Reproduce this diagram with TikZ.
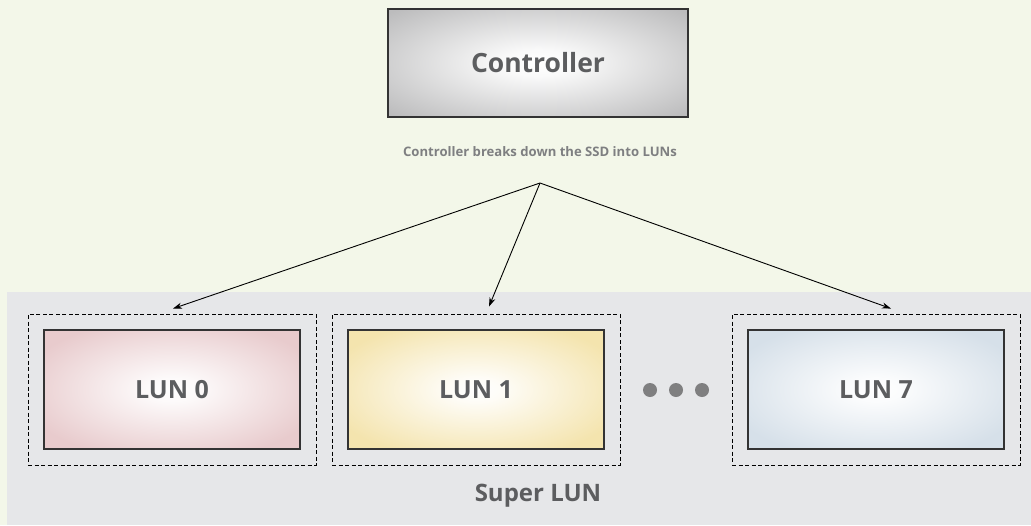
\documentclass[tikz,border=0pt]{standalone}
\usepackage{fontspec}
\setmainfont{Open Sans}
\usetikzlibrary{arrows.meta,calc}
\definecolor{bgc}{HTML}{F3F7E9}
\definecolor{superc}{HTML}{E6E7E9}
\definecolor{txt}{HTML}{5C5D5F}
\definecolor{captxt}{HTML}{7E7F81}
\definecolor{ctrlout}{HTML}{BCBCBD}
\definecolor{lunA}{HTML}{E8CBCD}
\definecolor{lunB}{HTML}{F4E4AE}
\definecolor{lunC}{HTML}{D6E0E9}
\pgfdeclareradialshading{ctrlshade}{\pgfpoint{0bp}{0bp}}{color(0bp)=(white); color(6bp)=(white!92!ctrlout); color(34bp)=(ctrlout); color(50bp)=(ctrlout)}
\pgfdeclareradialshading{lunAshade}{\pgfpoint{0bp}{0bp}}{color(0bp)=(white); color(5bp)=(white!90!lunA); color(30bp)=(lunA); color(50bp)=(lunA)}
\pgfdeclareradialshading{lunBshade}{\pgfpoint{0bp}{0bp}}{color(0bp)=(white); color(5bp)=(white!90!lunB); color(30bp)=(lunB); color(50bp)=(lunB)}
\pgfdeclareradialshading{lunCshade}{\pgfpoint{0bp}{0bp}}{color(0bp)=(white); color(5bp)=(white!90!lunC); color(30bp)=(lunC); color(50bp)=(lunC)}
\tikzset{
  boxbase/.style={draw=black!80, line width=1.2pt, inner sep=0pt, font=\bfseries\fontsize{25}{28}\selectfont, text=txt},
  lunbox/.style={boxbase, minimum width=256pt, minimum height=119pt},
  frame/.style={draw=black, line width=0.9pt, dash pattern=on 4pt off 2.5pt, minimum width=288pt, minimum height=151pt, inner sep=0pt},
  arr/.style={-{Stealth[length=9pt,width=6pt]}, line width=0.9pt, black},
  dot/.style={circle, fill=black!45!superc, minimum size=14pt, inner sep=0pt},
}
\begin{document}
\begin{tikzpicture}[x=1pt,y=-1pt]
\useasboundingbox (0,0) rectangle (1031,525);
\fill[bgc] (0,0) rectangle (1031,525);
\fill[superc] (7,292) rectangle (1031,525);
% controller
\node[boxbase, shading=ctrlshade, minimum width=300pt, minimum height=108pt, font=\bfseries\fontsize{26.5}{30}\selectfont] (ctrl) at (538,63) {Controller};
\node[font=\bfseries\fontsize{13.1}{16}\selectfont, text=captxt] (cap) at (540,152) {Controller breaks down the SSD into LUNs};
\coordinate (src) at (540,183);
% frames
\node[frame] (f0) at (172,389.5) {};
\node[frame] (f1) at (476,389.5) {};
\node[frame] (f7) at (876,389.5) {};
% luns
\node[lunbox, shading=lunAshade] (l0) at (f0.center) {LUN 0};
\node[lunbox, shading=lunBshade] (l1) at (f1.center) {LUN 1};
\node[lunbox, shading=lunCshade] (l7) at (f7.center) {LUN 7};
% dots
\node[dot] (d1) at (650,390) {};
\node[dot] (d2) at (676,390) {};
\node[dot] (d3) at (702,390) {};
% super lun label
\node[font=\bfseries\fontsize{24}{28}\selectfont, text=txt] (super) at (538,496) {Super LUN};
% arrows
\draw[arr] (src) -- ([xshift=1pt,yshift=5pt]f0.north);
\draw[arr] (src) -- ([xshift=13pt,yshift=7pt]f1.north);
\draw[arr] (src) -- ([xshift=15pt,yshift=5pt]f7.north);
\end{tikzpicture}
\end{document}
